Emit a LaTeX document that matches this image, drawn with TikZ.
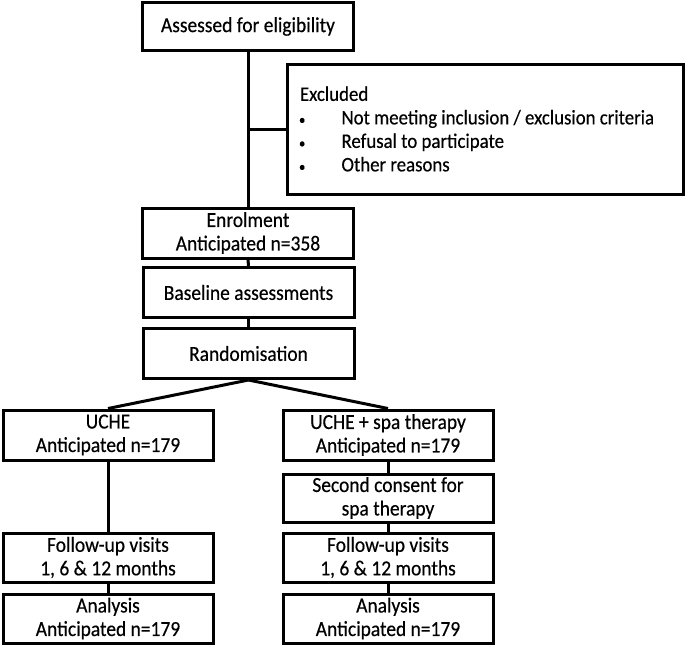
\documentclass[tikz,border=0pt]{standalone}
\usepackage{fontspec}
\setmainfont{Carlito}[FakeStretch=0.91,FakeBold=0.4]
\newcommand{\exbullet}{\makebox[41.5pt][l]{\kern-1pt{\fontsize{14}{14}\selectfont\textbullet}}}
\begin{document}
\begin{tikzpicture}[x=1pt,y=-1pt,
  box/.style={draw, line width=3pt, minimum width=211pt, minimum height=50pt,
    align=center, inner sep=0pt, font=\fontsize{21.4}{23.5}\selectfont},
  conn/.style={line width=3pt}]
\useasboundingbox (0,0) rectangle (685,645);
\node[box, minimum height=48pt] (assess) at (248,26.5) {Assessed for eligibility};
\node[box, minimum width=396pt, minimum height=130pt, font=\fontsize{20.7}{23.5}\selectfont] (excl) at (485,129)
  {\raisebox{-2pt}{\begin{minipage}{370pt}\raggedright
   Excluded\\
   \mbox{\exbullet Not meeting inclusion / exclusion criteria}\\
   \mbox{\exbullet Refusal to participate}\\
   \mbox{\exbullet Other reasons}\end{minipage}}};
\node[box] (enrol) at (248,233) {Enrolment\\Anticipated n=358};
\node[box] (base) at (248.5,292.5) {Baseline assessments};
\node[box] (rand) at (248.5,353.5) {Randomisation};
\node[box, minimum width=210pt] (uche) at (108,435) {UCHE\\Anticipated n=179};
\node[box, minimum width=210pt] (spa) at (388,435) {UCHE + spa therapy\\Anticipated n=179};
\node[box, minimum width=210pt, minimum height=48pt] (second) at (388,498) {Second consent for\\spa therapy};
\node[box, minimum width=210pt, minimum height=49pt] (fuL) at (108,557.5) {Follow-up visits\\1, 6 \& 12 months};
\node[box, minimum width=210pt, minimum height=49pt] (fuR) at (388,557.5) {Follow-up visits\\1, 6 \& 12 months};
\node[box, minimum width=210pt, minimum height=49pt] (anL) at (108,618.5) {Analysis\\Anticipated n=179};
\node[box, minimum width=210pt, minimum height=49pt] (anR) at (388,618.5) {Analysis\\Anticipated n=179};
\coordinate (branch) at (assess.south |- excl.west);
\draw[conn] (assess.south) -- (enrol.north);
\draw[conn] (branch) -- (excl.west);
\draw[conn] (enrol.south) -- (base.north);
\draw[conn] (base.south) -- (rand.north);
\draw[conn] (rand.south) -- (uche.north);
\draw[conn] (rand.south) -- (spa.north);
\draw[conn] (uche.south) -- (fuL.north);
\draw[conn] (fuL.south) -- (anL.north);
\draw[conn] (spa.south) -- (second.north);
\draw[conn] (second.south) -- (fuR.north);
\draw[conn] (fuR.south) -- (anR.north);
\end{tikzpicture}
\end{document}
